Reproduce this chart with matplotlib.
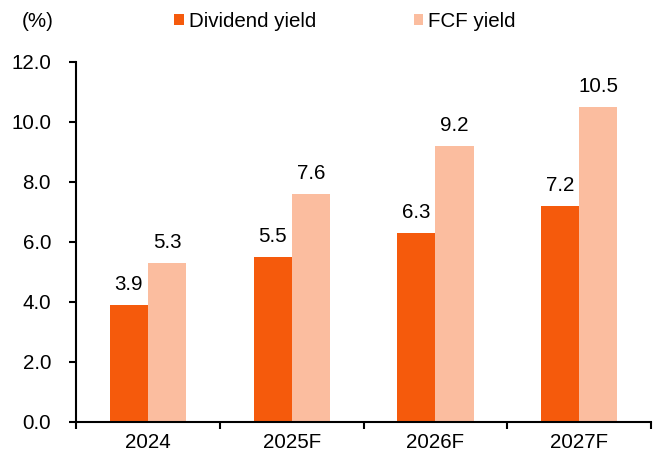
import matplotlib
matplotlib.use("Agg")
import matplotlib.pyplot as plt
import numpy as np

# Data
years = ["2024", "2025F", "2026F", "2027F"]
dividendYield = [3.9, 5.5, 6.3, 7.2]
fcfYield = [5.3, 7.6, 9.2, 10.5]

plt.rcParams['font.family'] = ['Liberation Sans', 'DejaVu Sans']
plt.rcParams['font.size'] = 14.8

fig = plt.figure(figsize=(6.61, 4.61), dpi=100)
ax = fig.add_axes([0.115, 0.0846, 0.87, 0.781])

x = np.arange(len(years))
w = 0.265
b1 = ax.bar(x - w/2, dividendYield, w, color="#F55A0C", label="Dividend yield")
b2 = ax.bar(x + w/2, fcfYield, w, color="#FBBD9F", label="FCF yield")

for rect, v in zip(b1, dividendYield):
	ax.text(rect.get_x() + rect.get_width()/2, v + 0.35, "%.1f" % v, ha="center", va="bottom")
for rect, v in zip(b2, fcfYield):
	ax.text(rect.get_x() + rect.get_width()/2, v + 0.35, "%.1f" % v, ha="center", va="bottom")

ax.set_xlim(-0.5, len(years) - 0.5)
ax.set_ylim(0, 12)
ax.set_yticks(np.arange(0, 12.1, 2))
ax.set_yticklabels(["%.1f" % t for t in np.arange(0, 12.1, 2)])
ax.set_xticks(x)
ax.set_xticklabels(years)
ax.set_xticks(np.arange(-0.5, len(years), 1), minor=True)
ax.tick_params(axis="x", which="major", length=0, pad=8)
ax.tick_params(axis="x", which="minor", length=5, width=1.5, direction="out")
ax.tick_params(axis="y", length=5, width=1.5, direction="out", pad=13)

for s in ["top", "right"]:
	ax.spines[s].set_visible(False)
ax.spines["left"].set_linewidth(1.5)
ax.spines["bottom"].set_linewidth(1.5)

fig.text(0.033, 0.954, "(%)", ha="left", va="center")
fig.legend(loc="center left", bbox_to_anchor=(0.263, 0.954), ncol=2, frameon=False,
	handlelength=0.48, handleheight=0.48, handletextpad=0.24, columnspacing=4.75,
	borderpad=0, borderaxespad=0)

fig.savefig("out.png", dpi=100)
